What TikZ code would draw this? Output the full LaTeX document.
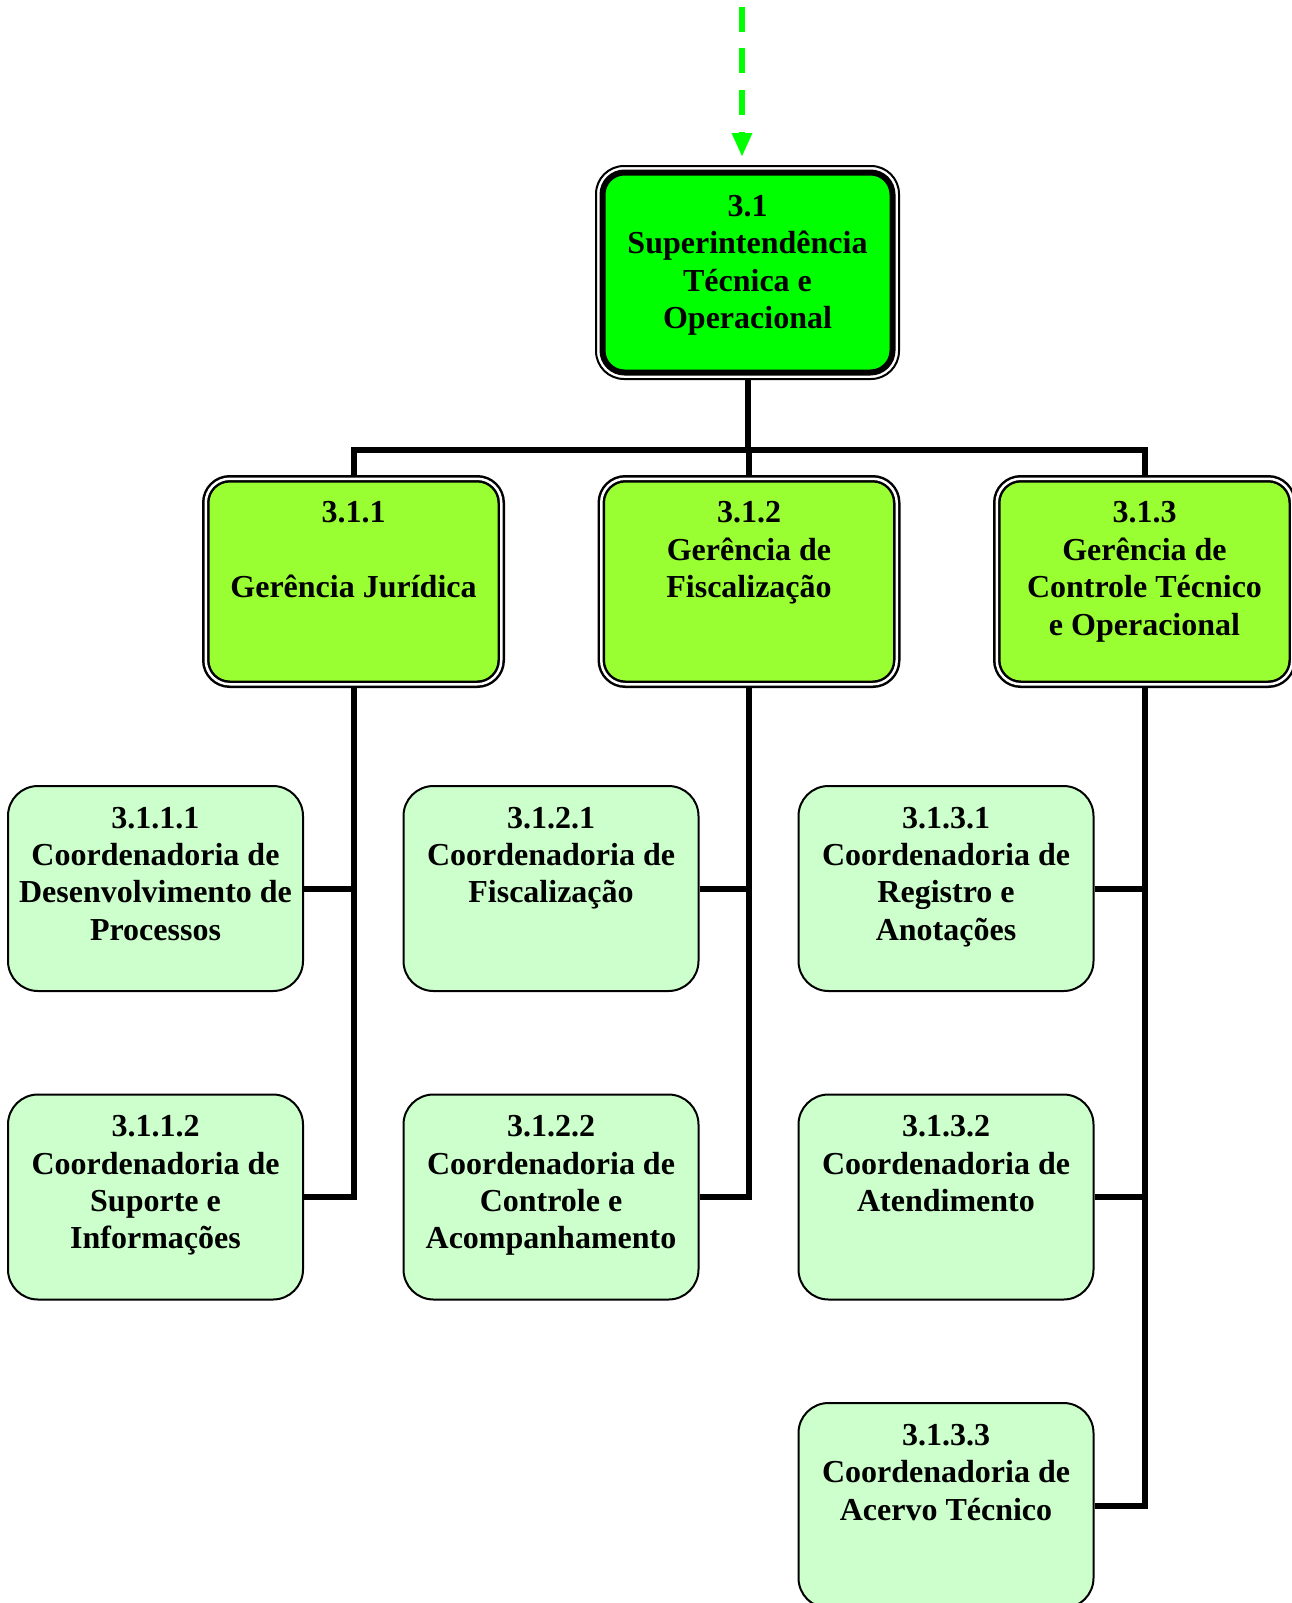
\documentclass[tikz,border=0pt]{standalone}
\usepackage{fontspec}
\setmainfont{Liberation Serif}
\usetikzlibrary{arrows.meta,calc}
\definecolor{supgreen}{RGB}{0,255,0}
\definecolor{gergreen}{RGB}{153,255,51}
\definecolor{coordgreen}{RGB}{204,255,204}
\definecolor{arrowgreen}{RGB}{0,255,0}
\tikzset{
  lbl/.style={font=\fontsize{32}{37.4}\selectfont\bfseries, align=center, inner sep=0pt, anchor=north},
  supbox/.style={draw=black, line width=6pt, fill=supgreen, rounded corners=22pt, minimum width=290pt, minimum height=200pt, outer sep=0pt, inner sep=0pt},
  supframe/.style={draw=black, line width=2pt, rounded corners=28pt, minimum width=303pt, minimum height=213pt, outer sep=1pt, inner sep=0pt},
  gerbox/.style={draw=black, line width=2.5pt, double=white, double distance=2.5pt, fill=gergreen, rounded corners=24pt, minimum width=295.5pt, minimum height=205.5pt, outer sep=3.75pt, inner sep=0pt},
  coordbox/.style={draw=black, line width=2pt, fill=coordgreen, rounded corners=30pt, minimum width=295pt, minimum height=205pt, outer sep=1pt, inner sep=0pt},
  conn/.style={draw=black, line width=6pt},
  feed/.style={draw=arrowgreen, line width=6.5pt, dash pattern=on 25pt off 16.7pt, -{Triangle[length=24pt,width=19pt]}}
}
\begin{document}
\begin{tikzpicture}[x=1pt,y=-1pt]
\useasboundingbox (0,0) rectangle (1291,1603);

% top box
\node[supframe] (supO) at (747.5,272.5) {};
\node[supbox] (sup) at (747.5,272.5) {};
\node[lbl] (supT) at ([yshift=-22.5pt]sup.north) {3.1\\Superintendência\\Técnica e\\Operacional};

% managers
\node[gerbox] (g1) at (353.5,581.5) {};
\node[gerbox] (g2) at (749,581.5) {};
\node[gerbox] (g3) at (1144.5,581.5) {};
\node[lbl] (g1T) at ([yshift=-26.6pt]g1.north) {3.1.1\\[37.4pt]Gerência Jurídica};
\node[lbl] (g2T) at ([yshift=-26.6pt]g2.north) {3.1.2\\Gerência de\\Fiscalização};
\node[lbl] (g3T) at ([yshift=-26.6pt]g3.north) {3.1.3\\Gerência de\\Controle Técnico\\e Operacional};

% coordinators
\node[coordbox] (c111) at (155.5,888.5) {};
\node[coordbox] (c112) at (155.5,1197) {};
\node[coordbox] (c121) at (551,888.5) {};
\node[coordbox] (c122) at (551,1197) {};
\node[coordbox] (c131) at (946,888.5) {};
\node[coordbox] (c132) at (946,1197) {};
\node[coordbox] (c133) at (946,1505.5) {};
\node[lbl] (c111T) at ([yshift=-21.8pt]c111.north) {3.1.1.1\\Coordenadoria de\\Desenvolvimento de\\Processos};
\node[lbl] (c112T) at ([yshift=-21.8pt]c112.north) {3.1.1.2\\Coordenadoria de\\Suporte e\\Informações};
\node[lbl] (c121T) at ([yshift=-21.8pt]c121.north) {3.1.2.1\\Coordenadoria de\\Fiscalização};
\node[lbl] (c122T) at ([yshift=-21.8pt]c122.north) {3.1.2.2\\Coordenadoria de\\Controle e\\Acompanhamento};
\node[lbl] (c131T) at ([yshift=-21.8pt]c131.north) {3.1.3.1\\Coordenadoria de\\Registro e\\Anotações};
\node[lbl] (c132T) at ([yshift=-21.8pt]c132.north) {3.1.3.2\\Coordenadoria de\\Atendimento};
\node[lbl] (c133T) at ([yshift=-21.8pt]c133.north) {3.1.3.3\\Coordenadoria de\\Acervo Técnico};

% connectors
\coordinate (bar) at (0,450);
\draw[conn] (supO.south) -- (supO.south |- bar);
\draw[conn] (g1.north) -- (g1.north |- bar) -| (g3.north);
\draw[conn] (g2.north) -- (g2.north |- bar);

\draw[conn] (g1.south) |- (c112.east);
\draw[conn] (c111.east) -- (c111.east -| g1.south);
\draw[conn] (g2.south) |- (c122.east);
\draw[conn] (c121.east) -- (c121.east -| g2.south);
\draw[conn] (g3.south) |- (c133.east);
\draw[conn] (c131.east) -- (c131.east -| g3.south);
\draw[conn] (c132.east) -- (c132.east -| g3.south);

% incoming dashed arrow
\coordinate (src) at (742,6.7);
\draw[feed, shorten >=8pt] (src) -- (src |- supO.north);
\end{tikzpicture}
\end{document}
